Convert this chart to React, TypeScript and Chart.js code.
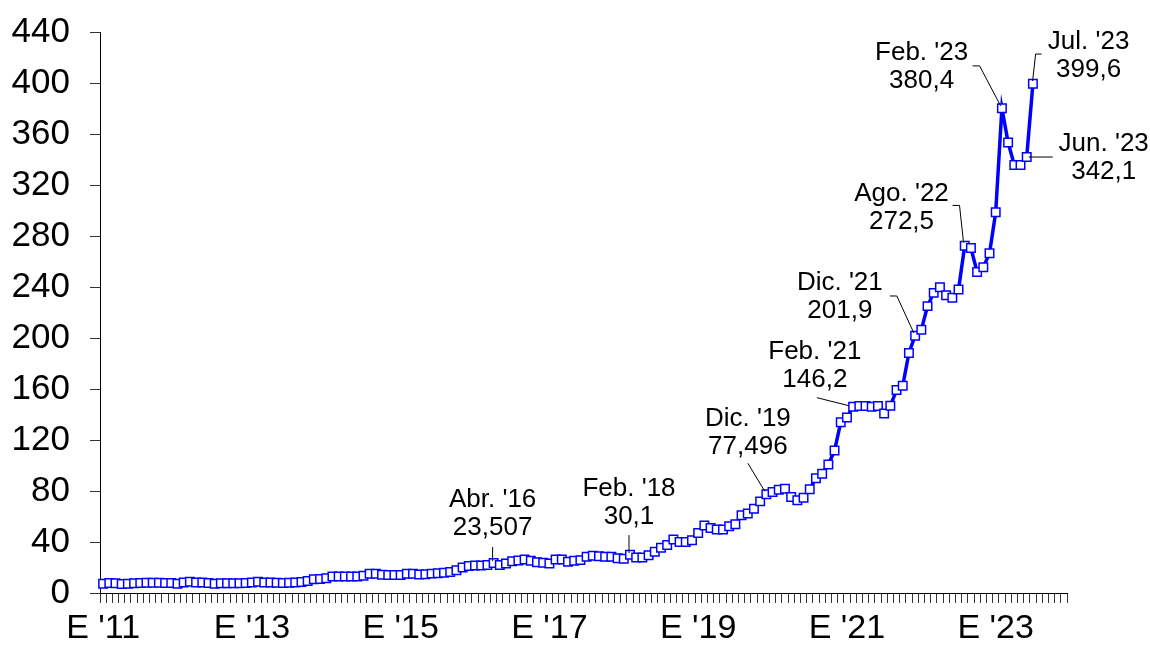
import React, { useEffect, useRef } from "react";
import { Chart, registerables } from "chart.js";

Chart.register(...registerables);

// ---- data ----
const YEARS = ["11", "12", "13", "14", "15", "16", "17", "18", "19", "20", "21", "22", "23"];
const MONTH_INITIALS = ["E", "F", "M", "A", "M", "J", "J", "A", "S", "O", "N", "D"];
const CATEGORIES: string[] = [];
YEARS.forEach((y) => MONTH_INITIALS.forEach((m) => CATEGORIES.push(`${m} '${y}`)));

const VALUES = [
  // 2011
  7.3, 7.8, 7.6, 7.0, 7.3, 7.6, 7.8, 8.1, 8.1, 8.1, 7.8, 7.8,
  // 2012
  7.3, 8.3, 8.9, 8.3, 8.3, 7.8, 7.3, 7.6, 7.6, 7.6, 7.6, 7.8,
  // 2013
  8.3, 8.9, 8.3, 8.3, 8.1, 7.8, 8.1, 8.3, 8.6, 9.4, 10.7, 10.9,
  // 2014
  11.5, 13.0, 13.0, 13.0, 13.0, 13.0, 13.5, 15.1, 15.1, 14.3, 14.1, 14.1,
  // 2015
  14.1, 15.1, 15.1, 14.6, 14.8, 15.2, 15.5, 15.9, 16.4, 17.9, 20.1, 21.2,
  // 2016
  21.5, 21.5, 21.9, 23.507, 22.0, 23.2, 25.0, 25.5, 26.3, 25.3, 24.2, 23.7,
  // 2017
  23.2, 26.3, 26.3, 24.5, 25.3, 25.8, 28.4, 29.2, 28.9, 28.4, 28.4, 27.3,
  // 2018
  26.8, 30.1, 27.9, 27.9, 29.7, 32.3, 35.5, 37.6, 41.9, 40.1, 40.1, 41.4,
  // 2019
  47.0, 53.0, 51.0, 49.8, 49.8, 52.4, 53.9, 61.0, 62.3, 66.2, 71.9, 77.496,
  // 2020
  79.2, 81.0, 81.8, 75.3, 72.7, 74.8, 81.5, 90.1, 93.5, 100.8, 111.8, 133.9,
  // 2021
  137.8, 146.2, 146.7, 146.7, 146.2, 146.7, 140.9, 146.9, 159.2, 162.6, 188.4, 201.9,
  // 2022
  206.5, 225.1, 235.5, 239.9, 233.7, 231.6, 238.1, 272.5, 270.7, 251.9, 255.6, 266.5,
  // 2023
  298.8, 380.4, 353.5, 335.8, 335.8, 342.1, 399.6,
];

const Y_TICKS = [0, 40, 80, 120, 160, 200, 240, 280, 320, 360, 400, 440];

const CALLOUT_INDEX = [63, 85, 107, 121, 131, 139, 145, 150, 149];
const CALLOUT_MONTH = ["Abr. '16", "Feb. '18", "Dic. '19", "Feb. '21", "Dic. '21", "Ago. '22", "Feb. '23", "Jul. '23", "Jun. '23"];
const CALLOUT_VALUE = ["23,507", "30,1", "77,496", "146,2", "201,9", "272,5", "380,4", "399,6", "342,1"];

// ---- layout of callouts (offsets in px from the marker) ----
const CALLOUT_LAYOUT: { dx: number; dy: number; leader: [number, number][] }[] = [
  { dx: -1, dy: -63, leader: [[-1, -16], [-1, -2]] },
  { dx: -1, dy: -66, leader: [[-1, -19.5], [-1, -1.5]] },
  { dx: -18.5, dy: -75, leader: [[-18.5, -31], [-1.5, -2.8]] },
  { dx: -38.3, dy: -55, leader: [[-36.3, -9], [-4.3, -1]] },
  { dx: -75.3, dy: -52.7, leader: [[-25.3, -39.7], [-18.3, -39.7], [-1.3, -2.7]] },
  { dx: -63.2, dy: -52.3, leader: [[-12.2, -40.3], [-5.2, -40.3], [-1.2, -3.3]] },
  { dx: -80.3, dy: -55.3, leader: [[-29.3, -42.3], [-22.3, -42.3], [-1.3, -2.3]] },
  { dx: 55.7, dy: -41.7, leader: [[8.7, -29.7], [2.7, -29.7], [-0.3, -2.7]] },
  { dx: 77, dy: -13.3, leader: [[2, 0], [26, 0]] },
];

const FONT = '"Liberation Sans", Arial, sans-serif';

const calloutPlugin = {
  id: "callouts",
  afterDatasetsDraw(chart: any) {
    const ctx = chart.ctx;
    const meta = chart.getDatasetMeta(0);
    ctx.save();
    ctx.strokeStyle = "#000";
    ctx.lineWidth = 1;
    ctx.fillStyle = "#000";
    ctx.font = `26px ${FONT}`;
    ctx.textAlign = "center";
    ctx.textBaseline = "middle";
    CALLOUT_INDEX.forEach((idx, k) => {
      const el = meta.data[idx];
      if (!el) return;
      const px = el.x;
      const py = el.y;
      const lay = CALLOUT_LAYOUT[k];
      ctx.beginPath();
      lay.leader.forEach(([dx, dy], j) => {
        if (j === 0) ctx.moveTo(px + dx, py + dy);
        else ctx.lineTo(px + dx, py + dy);
      });
      ctx.stroke();
      ctx.fillText(CALLOUT_MONTH[k], px + lay.dx, py + lay.dy);
      ctx.fillText(CALLOUT_VALUE[k], px + lay.dx, py + lay.dy + 28);
    });
    ctx.restore();
  },
};

export default function App() {
  const ref = useRef<HTMLCanvasElement | null>(null);

  useEffect(() => {
    document.body.style.margin = "0";
    if (!ref.current) return;
    const chart = new Chart(ref.current, {
      type: "line",
      data: {
        labels: CATEGORIES,
        datasets: [
          {
            data: VALUES,
            borderColor: "#0000FF",
            borderWidth: 3.5,
            tension: 0,
            pointStyle: "rect",
            pointRadius: 6,
            pointBorderWidth: 1.5,
            pointBackgroundColor: "#FFFFFF",
            pointBorderColor: "#0000FF",
          },
        ],
      },
      options: {
        responsive: false,
        animation: false,
        layout: { padding: { top: 30, right: 83, left: 0, bottom: 0 } },
        plugins: { legend: { display: false }, tooltip: { enabled: false }, title: { display: false } },
        scales: {
          x: {
            type: "category",
            offset: true,
            grid: {
              offset: true,
              drawOnChartArea: false,
              drawTicks: true,
              tickLength: 10,
              color: "#333",
            },
            border: { display: true, color: "#000", width: 1 },
            ticks: {
              autoSkip: false,
              maxRotation: 0,
              minRotation: 0,
              color: "#000",
              padding: 5,
              font: { family: FONT, size: 34 },
              callback: (_v: any, i: number) => (i % 24 === 0 ? CATEGORIES[i] : ""),
            },
            afterFit: (s: any) => {
              s.height = 57;
            },
          },
          y: {
            min: 0,
            max: 440,
            afterBuildTicks: (s: any) => {
              s.ticks = Y_TICKS.map((v) => ({ value: v }));
            },
            grid: { drawOnChartArea: false, drawTicks: true, tickLength: 10, color: "#333" },
            border: { display: true, color: "#000", width: 1 },
            ticks: {
              color: "#000",
              padding: 20,
              font: { family: FONT, size: 35, lineHeight: 0.7 },
            },
            afterFit: (s: any) => {
              s.width = 100;
            },
          },
        },
      },
      plugins: [calloutPlugin],
    });
    return () => chart.destroy();
  }, []);

  return (
    <div style={{ position: "absolute", left: 0, top: 0, width: 1150, height: 650, background: "#fff" }}>
      <canvas ref={ref} width={1150} height={650} />
    </div>
  );
}
